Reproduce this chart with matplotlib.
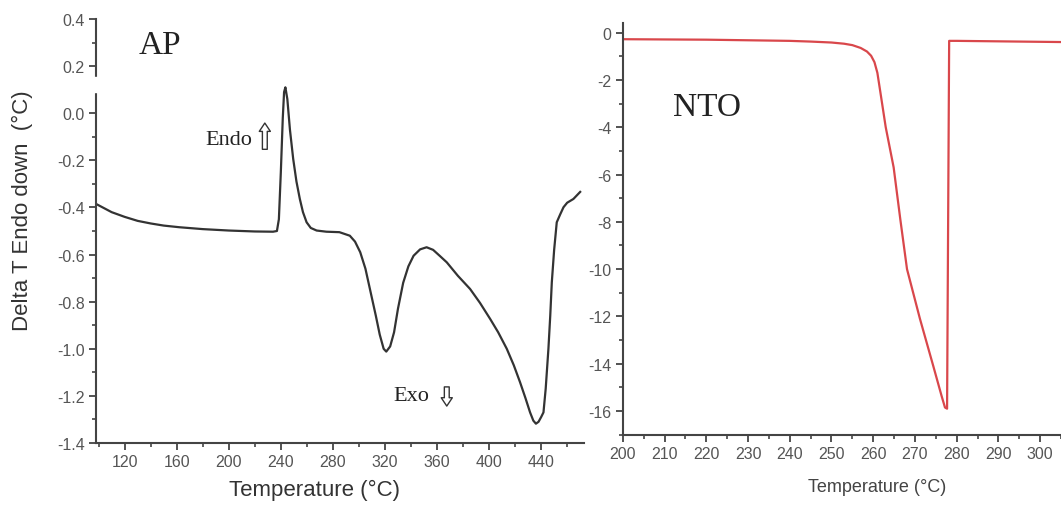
import numpy as np
import matplotlib
matplotlib.use('Agg')
import matplotlib.pyplot as plt
from matplotlib.ticker import MultipleLocator, FormatStrFormatter
from matplotlib.patches import Rectangle

# AP curve
ap_temp = [98, 110, 120, 130, 140, 150, 162, 180, 200, 220, 234, 237, 238.5, 240,
           241.5, 242.5, 243.5, 245, 247, 249.5, 252, 254.6, 257, 259.8, 263, 267.5,
           275, 285, 293, 297, 301, 305, 309, 313, 316, 319, 321, 324, 327, 330, 334,
           338, 342, 347, 352, 357, 362, 367.5, 376, 385.4, 393, 400.8, 407, 413.6,
           419, 423.8, 428, 431.5, 434, 436, 438, 440, 441.8, 443.5, 445.6, 447,
           448.2, 450, 452, 454.6, 457.2, 460, 464.8, 470]
ap_dt = [-0.385, -0.42, -0.44, -0.457, -0.468, -0.477, -0.484, -0.492, -0.498, -0.502,
         -0.503, -0.50, -0.45, -0.25, -0.02, 0.09, 0.11, 0.06, -0.07, -0.194, -0.29,
         -0.364, -0.42, -0.463, -0.487, -0.498, -0.503, -0.505, -0.52, -0.545, -0.59,
         -0.66, -0.76, -0.86, -0.94, -1.0, -1.012, -0.99, -0.93, -0.83, -0.72, -0.65,
         -0.605, -0.578, -0.569, -0.58, -0.605, -0.633, -0.69, -0.746, -0.805, -0.873,
         -0.93, -1.0, -1.07, -1.142, -1.21, -1.27, -1.305, -1.318, -1.31, -1.29, -1.27,
         -1.17, -1.0, -0.86, -0.718, -0.58, -0.463, -0.43, -0.399, -0.38, -0.364, -0.334]

# NTO curve
nto_temp = [200, 220, 240, 245, 250, 253, 255, 257, 258.5, 259.5, 260.3, 261, 261.7,
            263, 264.9, 266.5, 268.1, 271.2, 274.4, 276.4, 277.2, 277.7, 278.2, 280,
            290, 305]
nto_dt = [-0.28, -0.3, -0.35, -0.38, -0.42, -0.47, -0.53, -0.65, -0.8, -0.98, -1.25,
          -1.7, -2.5, -4.0, -5.7, -7.9, -10.0, -12.1, -14.1, -15.37, -15.85, -15.9,
          -0.35, -0.35, -0.37, -0.4]

axis_col = '#444444'
tick_col = '#555555'

plt.rcParams['font.family'] = ['Liberation Sans', 'DejaVu Sans']
plt.rcParams['axes.unicode_minus'] = False

fig = plt.figure(figsize=(10.61, 5.10), dpi=100)
ax1 = fig.add_axes([0.0905, 0.1294, 0.46, 0.8314])
ax2 = fig.add_axes([0.587, 0.1457, 0.413, 0.807])

for ax in (ax1, ax2):
    ax.spines['top'].set_visible(False)
    ax.spines['right'].set_visible(False)
    for s in ('left', 'bottom'):
        ax.spines[s].set_color(axis_col)
        ax.spines[s].set_linewidth(1.5)
    ax.tick_params(which='major', direction='out', length=5, width=1.3,
                   color=axis_col, labelcolor=tick_col, labelsize=11.5, pad=3)
    ax.tick_params(which='minor', direction='out', length=3, width=1.2, color=axis_col)

# left panel: AP
ax1.plot(ap_temp, ap_dt, color='#333333', lw=1.6)
ax1.set_xlim(98, 473)
ax1.set_ylim(-1.4, 0.4)
ax1.xaxis.set_major_locator(MultipleLocator(40))
ax1.xaxis.set_minor_locator(MultipleLocator(20))
ax1.yaxis.set_major_locator(MultipleLocator(0.2))
ax1.yaxis.set_minor_locator(MultipleLocator(0.1))
ax1.yaxis.set_major_formatter(FormatStrFormatter('%.1f'))
ax1.set_xlabel('Temperature (\u00b0C)', fontsize=16, color='#333333')
ax1.set_ylabel('Delta T Endo down  (\u00b0C)', fontsize=16, color='#333333')
ax1.xaxis.set_label_coords(0.447, -0.085)
ax1.yaxis.set_label_coords(-0.13, 0.55)
# small gap in the left spine
ax1.add_patch(Rectangle((-0.01, 0.828), 0.02, 0.036, transform=ax1.transAxes,
                        color='white', clip_on=False, zorder=5))

ax1.text(147, 0.29, 'AP', family='Liberation Serif', fontsize=24, ha='center',
         va='center', color='#222222')
ax1.text(200, -0.11, 'Endo', family='Liberation Serif', fontsize=16, ha='center',
         va='center', color='#222222')
ax1.annotate('', xy=(227.7, -0.03), xytext=(227.7, -0.165),
             arrowprops=dict(arrowstyle='simple,head_width=0.8,head_length=0.6,tail_width=0.35',
                             fc='white', ec='#333333', lw=1))
ax1.text(340, -1.2, 'Exo', family='Liberation Serif', fontsize=16, ha='center',
         va='center', color='#222222')
ax1.annotate('', xy=(367.5, -1.255), xytext=(367.5, -1.15),
             arrowprops=dict(arrowstyle='simple,head_width=0.8,head_length=0.6,tail_width=0.35',
                             fc='white', ec='#333333', lw=1))

# right panel: NTO
ax2.plot(nto_temp, nto_dt, color='#d9474b', lw=1.6)
ax2.set_xlim(200, 305)
ax2.set_ylim(-17, 0.4)
ax2.xaxis.set_major_locator(MultipleLocator(10))
ax2.xaxis.set_minor_locator(MultipleLocator(5))
ax2.yaxis.set_major_locator(MultipleLocator(2))
ax2.yaxis.set_minor_locator(MultipleLocator(1))
ax2.set_xlabel('Temperature (\u00b0C)', fontsize=13, color='#444444')
ax2.xaxis.set_label_coords(0.58, -0.105)
ax2.text(220.2, -3.12, 'NTO', family='Liberation Serif', fontsize=24, ha='center',
         va='center', color='#222222')

fig.savefig('out.png', dpi=100)
